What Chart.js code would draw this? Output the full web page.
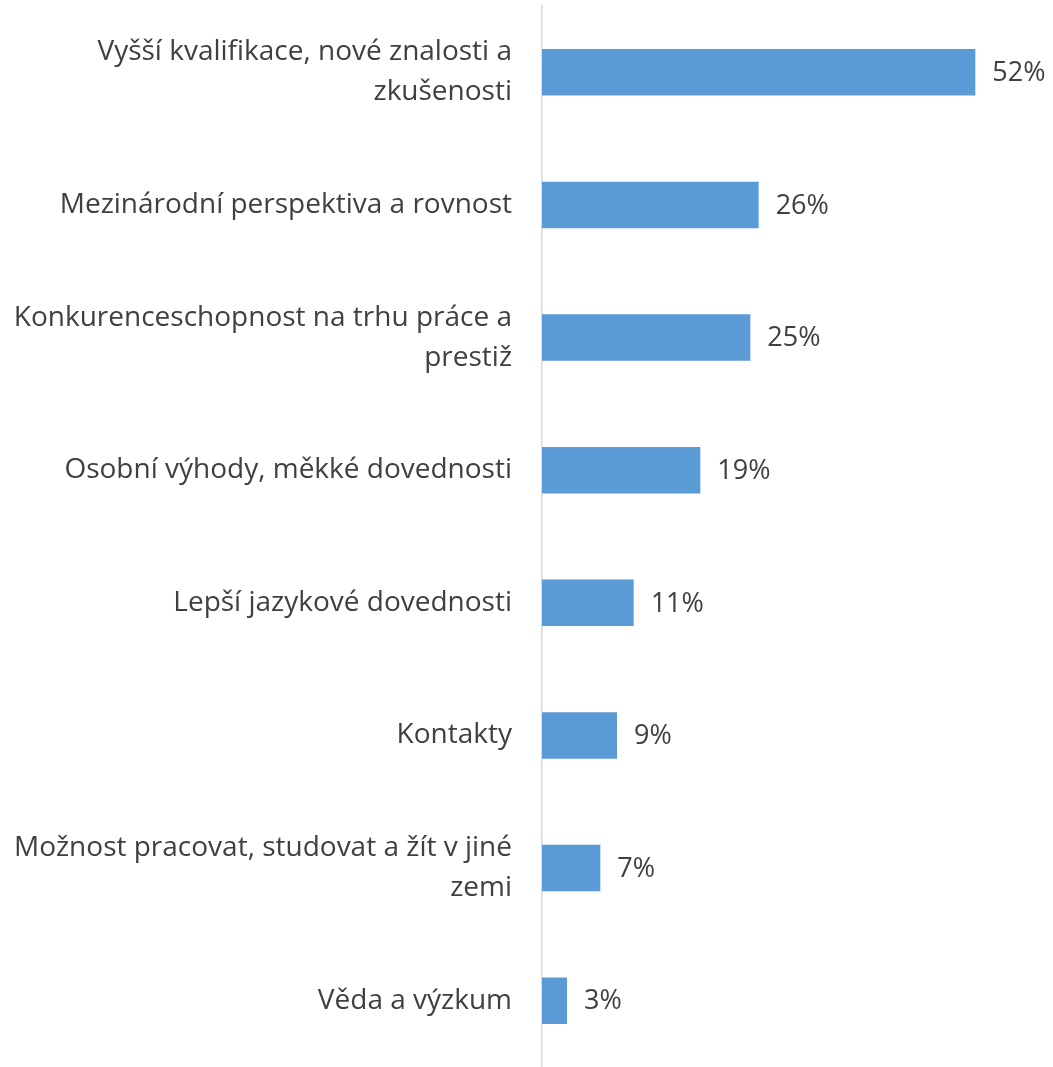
<!DOCTYPE html>
<html>
<head>
<meta charset="utf-8">
<script src="https://cdn.jsdelivr.net/npm/chart.js@4"></script>
<style>
  html, body { margin: 0; padding: 0; background: #fff; overflow: hidden; }
  #wrap { width: 1053px; height: 1067px; position: relative; }
</style>
</head>
<body>
<div id="wrap"><canvas id="chart"></canvas></div>
<script>
// Category labels (multi-line ones split as in the original)
const categories = [
    ['Vyšší kvalifikace, nové znalosti a', 'zkušenosti'],
    'Mezinárodní perspektiva a rovnost',
    ['Konkurenceschopnost na trhu práce a', 'prestiž'],
    'Osobní výhody, měkké dovednosti',
    'Lepší jazykové dovednosti',
    'Kontakty',
    ['Možnost pracovat, studovat a žít v jiné', 'zemi'],
    'Věda a výzkum'
];
const values = [52, 26, 25, 19, 11, 9, 7, 3];

const FONT = '"Open Sans", sans-serif';

// Draws "52%" etc. right of each bar
const valueLabels = {
    id: 'valueLabels',
    afterDatasetsDraw(chart) {
        const ctx = chart.ctx;
        const meta = chart.getDatasetMeta(0);
        ctx.save();
        ctx.font = '27px ' + FONT;
        ctx.fillStyle = '#404040';
        ctx.textAlign = 'left';
        ctx.textBaseline = 'middle';
        meta.data.forEach((bar, i) => {
            ctx.fillText(values[i] + '%', bar.x + 17, bar.y + 1);
        });
        ctx.restore();
    }
};

new Chart(document.getElementById('chart'), {
    type: 'bar',
    data: {
        labels: categories,
        datasets: [{
            data: values,
            backgroundColor: '#5b9bd5',
            borderWidth: 0,
            barPercentage: 0.7,
            categoryPercentage: 0.5
        }]
    },
    options: {
        indexAxis: 'y',
        responsive: true,
        maintainAspectRatio: false,
        animation: false,
        layout: { padding: { top: 6, right: 11, bottom: -3, left: 0 } },
        plugins: {
            legend: { display: false },
            tooltip: { enabled: false }
        },
        scales: {
            x: {
                display: false,
                min: 0,
                max: 60
            },
            y: {
                afterFit(scale) {
                    scale.width = 542;
                    // labels sit inside their bands, no extra room needed
                    scale.paddingTop = 0;
                    scale.paddingBottom = 0;
                },
                grid: { display: false, drawTicks: false },
                border: { color: '#d9d9d9', width: 1.5 },
                ticks: {
                    padding: 30,
                    color: '#404040',
                    font: { family: FONT, size: 28, lineHeight: 1.43 }
                }
            }
        }
    },
    plugins: [valueLabels]
});
</script>
</body>
</html>
